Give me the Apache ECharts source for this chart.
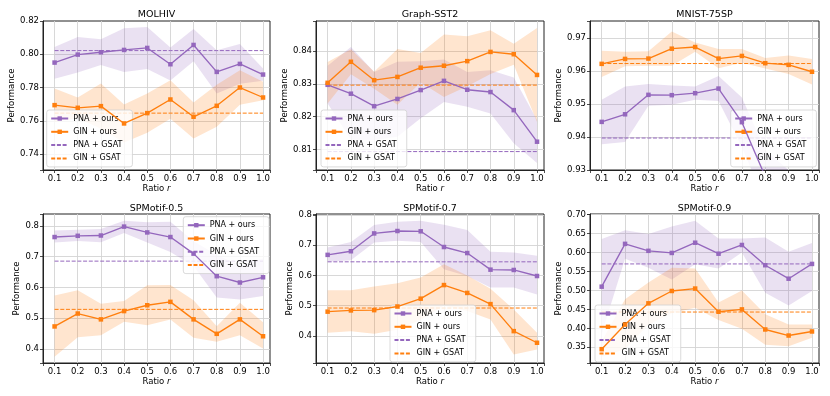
<!DOCTYPE html>
<html>
<head>
<meta charset="utf-8">
<script src="https://cdn.jsdelivr.net/npm/echarts@6/dist/echarts.min.js"></script>
<style>
html, body { margin: 0; padding: 0; background: #fff; }
#main { width: 830px; height: 396px; }
</style>
</head>
<body>
<div id="main"></div>
<script>
var ratios = [0.1, 0.2, 0.3, 0.4, 0.5, 0.6, 0.7, 0.8, 0.9, 1.0];
var seriesNames = ['PNA + ours', 'GIN + ours', 'PNA + GSAT', 'GIN + GSAT'];

// MOLHIV
var molhivPna   = [0.795, 0.7998, 0.8012, 0.8026, 0.8038, 0.794, 0.8056, 0.7894, 0.7942, 0.7878];
var molhivPnaLo = [0.7852, 0.789, 0.7936, 0.7894, 0.7912, 0.7842, 0.7958, 0.7764, 0.7823, 0.7840];
var molhivPnaHi = [0.8044, 0.8104, 0.809, 0.8156, 0.8164, 0.804, 0.8152, 0.8024, 0.8062, 0.7914];
var molhivGin   = [0.7694, 0.7678, 0.7688, 0.7584, 0.7646, 0.7728, 0.7624, 0.769, 0.78, 0.774];
var molhivGinLo = [0.7594, 0.7616, 0.7552, 0.747, 0.7528, 0.7612, 0.7494, 0.7564, 0.7696, 0.7724];
var molhivGinHi = [0.7794, 0.774, 0.7824, 0.7698, 0.7764, 0.7844, 0.771, 0.7816, 0.7904, 0.7834];
var molhivPnaGsat = 0.8022, molhivGinGsat = 0.7646;

// Graph-SST2
var sstPna   = [0.8297, 0.827, 0.8232, 0.8254, 0.8281, 0.8309, 0.8282, 0.8275, 0.822, 0.8124];
var sstPnaLo = [0.824, 0.813, 0.8129, 0.8139, 0.8195, 0.8245, 0.823, 0.821, 0.8119, 0.8059];
var sstPnaHi = [0.8355, 0.8412, 0.8336, 0.8367, 0.8369, 0.8374, 0.8336, 0.8341, 0.8319, 0.819];
var sstGin   = [0.8303, 0.8367, 0.8311, 0.8321, 0.8349, 0.8355, 0.8369, 0.8397, 0.839, 0.8327];
var sstGinLo = [0.824, 0.8329, 0.8285, 0.8236, 0.8304, 0.826, 0.8293, 0.833, 0.8358, 0.8184];
var sstGinHi = [0.8366, 0.8405, 0.8337, 0.8406, 0.8394, 0.845, 0.8445, 0.8463, 0.8422, 0.847];
var sstPnaGsat = 0.8094, sstGinGsat = 0.8296;

// MNIST-75SP
var mnistPna   = [0.9446, 0.9469, 0.9528, 0.9527, 0.9533, 0.9547, 0.9445, 0.928, 0.922, 0.92];
var mnistPnaLo = [0.9378, 0.9385, 0.9495, 0.9498, 0.9513, 0.9509, 0.937, 0.92, 0.914, 0.912];
var mnistPnaHi = [0.9513, 0.9553, 0.9561, 0.9556, 0.9553, 0.9585, 0.952, 0.936, 0.93, 0.928];
var mnistGin   = [0.9622, 0.9637, 0.9638, 0.9668, 0.9673, 0.9638, 0.9646, 0.9624, 0.9619, 0.9598];
var mnistGinLo = [0.9582, 0.9615, 0.9616, 0.9616, 0.9659, 0.9609, 0.9625, 0.9608, 0.9591, 0.9559];
var mnistGinHi = [0.9662, 0.9659, 0.966, 0.972, 0.9687, 0.9667, 0.9667, 0.964, 0.9647, 0.9637];
var mnistPnaGsat = 0.9397, mnistGinGsat = 0.9623;

// SPMotif-0.5
var sp5Pna   = [0.764, 0.768, 0.769, 0.798, 0.779, 0.764, 0.71, 0.6365, 0.616, 0.633];
var sp5PnaLo = [0.746, 0.751, 0.747, 0.777, 0.746, 0.715, 0.67, 0.567, 0.561, 0.572];
var sp5PnaHi = [0.785, 0.788, 0.79, 0.817, 0.812, 0.814, 0.75, 0.706, 0.671, 0.694];
var sp5Gin   = [0.473, 0.515, 0.496, 0.523, 0.542, 0.553, 0.496, 0.449, 0.496, 0.441];
var sp5GinLo = [0.374, 0.438, 0.444, 0.488, 0.477, 0.496, 0.436, 0.423, 0.444, 0.401];
var sp5GinHi = [0.574, 0.591, 0.547, 0.556, 0.607, 0.608, 0.558, 0.474, 0.55, 0.487];
var sp5PnaGsat = 0.6856, sp5GinGsat = 0.5286;

// SPMotif-0.7
var sp7Pna   = [0.668, 0.68, 0.739, 0.747, 0.746, 0.694, 0.674, 0.619, 0.618, 0.598];
var sp7PnaLo = [0.645, 0.65, 0.709, 0.715, 0.711, 0.62, 0.598, 0.56, 0.56, 0.537];
var sp7PnaHi = [0.6925, 0.711, 0.767, 0.778, 0.781, 0.768, 0.75, 0.678, 0.676, 0.665];
var sp7Gin   = [0.48, 0.484, 0.485, 0.497, 0.523, 0.568, 0.542, 0.505, 0.4155, 0.377];
var sp7GinLo = [0.41, 0.4155, 0.4066, 0.42, 0.453, 0.5, 0.482, 0.454, 0.338, 0.3546];
var sp7GinHi = [0.551, 0.551, 0.563, 0.574, 0.593, 0.637, 0.6, 0.556, 0.4875, 0.41];
var sp7PnaGsat = 0.645, sp7GinGsat = 0.492;

// SPMotif-0.9
var sp9Pna   = [0.51, 0.623, 0.6046, 0.599, 0.626, 0.597, 0.62, 0.5666, 0.531, 0.57];
var sp9PnaLo = [0.385, 0.584, 0.56, 0.529, 0.569, 0.558, 0.6, 0.494, 0.4606, 0.4986];
var sp9PnaHi = [0.6355, 0.659, 0.649, 0.669, 0.684, 0.637, 0.637, 0.64, 0.602, 0.625];
var sp9Gin   = [0.345, 0.41, 0.466, 0.4986, 0.505, 0.4438, 0.45, 0.397, 0.381, 0.3917];
var sp9GinLo = [0.325, 0.345, 0.41, 0.44, 0.4545, 0.422, 0.399, 0.357, 0.353, 0.375];
var sp9GinHi = [0.365, 0.4765, 0.521, 0.56, 0.558, 0.468, 0.5, 0.437, 0.41, 0.41];
var sp9PnaGsat = 0.57, sp9GinGsat = 0.443;

var PURPLE = '#9467bd';
var ORANGE = '#ff7f0e';
var FONT = 'DejaVu Sans';

var panels = [
    { title: 'MOLHIV', pna: molhivPna, pnaLo: molhivPnaLo, pnaHi: molhivPnaHi, gin: molhivGin, ginLo: molhivGinLo, ginHi: molhivGinHi,
      pnaGsat: molhivPnaGsat, ginGsat: molhivGinGsat, ymin: 0.7304, ymax: 0.82, step: 0.02, dec: 2, split: 5,
      grid: [43, 21, 227, 149], legend: [46.7, 110], nameGap: 26, titleY: 15 },
    { title: 'Graph-SST2', pna: sstPna, pnaLo: sstPnaLo, pnaHi: sstPnaHi, gin: sstGin, ginLo: sstGinLo, ginHi: sstGinHi,
      pnaGsat: sstPnaGsat, ginGsat: sstGinGsat, ymin: 0.8038, ymax: 0.8491, step: 0.01, dec: 2, split: 5,
      grid: [316, 21, 228, 149], legend: [321, 110], nameGap: 25, titleY: 15 },
    { title: 'MNIST-75SP', pna: mnistPna, pnaLo: mnistPnaLo, pnaHi: mnistPnaHi, gin: mnistGin, ginLo: mnistGinLo, ginHi: mnistGinHi,
      pnaGsat: mnistPnaGsat, ginGsat: mnistGinGsat, ymin: 0.93, ymax: 0.9752, step: 0.01, dec: 2, split: 5,
      grid: [590, 21, 229, 149], legend: [730.7, 110], nameGap: 25.5, titleY: 15 },
    { title: 'SPMotif-0.5', pna: sp5Pna, pnaLo: sp5PnaLo, pnaHi: sp5PnaHi, gin: sp5Gin, ginLo: sp5GinLo, ginHi: sp5GinHi,
      pnaGsat: sp5PnaGsat, ginGsat: sp5GinGsat, ymin: 0.354, ymax: 0.839, step: 0.1, dec: 1, split: 5,
      grid: [43, 214, 227, 149], legend: [183.3, 216.7], nameGap: 20, titleY: 208.7 },
    { title: 'SPMotif-0.7', pna: sp7Pna, pnaLo: sp7PnaLo, pnaHi: sp7PnaHi, gin: sp7Gin, ginLo: sp7GinLo, ginHi: sp7GinHi,
      pnaGsat: sp7PnaGsat, ginGsat: sp7GinGsat, ymin: 0.31, ymax: 0.8033, step: 0.1, dec: 1, split: 5,
      grid: [316, 214, 228, 149], legend: [390, 305], nameGap: 19.5, titleY: 208.7 },
    { title: 'SPMotif-0.9', pna: sp9Pna, pnaLo: sp9PnaLo, pnaHi: sp9PnaHi, gin: sp9Gin, ginLo: sp9GinLo, ginHi: sp9GinHi,
      pnaGsat: sp9PnaGsat, ginGsat: sp9GinGsat, ymin: 0.3085, ymax: 0.7018, step: 0.05, dec: 2, split: 8,
      grid: [590, 214, 229, 149], legend: [595, 305], nameGap: 25, titleY: 208.7 }
];

function pts(vals) {
    return ratios.map(function (r, k) { return [r, vals[k]]; });
}
function flat(v) {
    return ratios.map(function (r) { return [r, v]; });
}
function tickFormatter(step, dec) {
    return function (v) {
        var k = v / step;
        return Math.abs(k - Math.round(k)) < 1e-6 ? v.toFixed(dec) : '';
    };
}

// shaded band between lo and hi, drawn as one polygon through the axis scales
function bandSeries(i, lo, hi, color) {
    return {
        name: 'band', type: 'custom', xAxisIndex: i, yAxisIndex: i, silent: true, clip: true, z: 1,
        data: ratios.map(function (r, k) { return [r, lo[k], hi[k]]; }),
        encode: { x: 0, y: [1, 2] },
        renderItem: function (params, api) {
            if (params.dataIndex !== 0) return null;
            var top = [], bottom = [];
            for (var k = 0; k < ratios.length; k++) {
                top.push(api.coord([ratios[k], hi[k]]));
                bottom.unshift(api.coord([ratios[k], lo[k]]));
            }
            return {
                type: 'polygon',
                shape: { points: top.concat(bottom) },
                style: { fill: color, stroke: null }
            };
        }
    };
}

var myChart = echarts.init(document.getElementById('main'));
var option = {
    animation: false,
    backgroundColor: '#fff',
    textStyle: { fontFamily: FONT },
    title: [], grid: [], xAxis: [], yAxis: [], legend: [], series: []
};

panels.forEach(function (p, i) {
    var g = p.grid;
    option.title.push({
        text: p.title, left: g[0] + g[2] / 2, top: p.titleY, textAlign: 'center', textVerticalAlign: 'middle', padding: 0,
        textStyle: { fontSize: 9.5, fontWeight: 'normal', color: '#000', fontFamily: FONT }
    });
    option.grid.push({
        left: g[0], top: g[1], width: g[2], height: g[3],
        show: true, borderColor: '#222', borderWidth: 1, backgroundColor: 'transparent'
    });
    option.xAxis.push({
        type: 'value', gridIndex: i, min: 0.05, max: 1.03, splitNumber: 10,
        name: 'Ratio {i|r}', nameLocation: 'middle', nameGap: 12.5,
        nameTextStyle: { fontSize: 8.5, color: '#000', fontFamily: FONT, rich: { i: { fontStyle: 'italic', fontSize: 8.5, fontFamily: FONT } } },
        axisLine: { show: true, lineStyle: { color: '#222', width: 1 } },
        axisTick: { show: true, length: 3, lineStyle: { color: '#222', width: 0.8 } },
        axisLabel: { fontSize: 8.5, color: '#000', margin: 4, formatter: tickFormatter(0.1, 1) },
        splitLine: { show: true, showMinLine: false, showMaxLine: false, lineStyle: { color: '#d4d4d4', width: 0.9 } }
    });
    option.yAxis.push({
        type: 'value', gridIndex: i, min: p.ymin, max: p.ymax, splitNumber: p.split,
        name: 'Performance', nameLocation: 'middle', nameGap: p.nameGap,
        nameTextStyle: { fontSize: 8.5, color: '#000', fontFamily: FONT },
        axisLine: { show: true, lineStyle: { color: '#222', width: 1 } },
        axisTick: { show: true, length: 3, lineStyle: { color: '#222', width: 0.8 } },
        axisLabel: { fontSize: 8.5, color: '#000', margin: 4, formatter: tickFormatter(p.step, p.dec) },
        splitLine: { show: true, showMinLine: false, showMaxLine: false, lineStyle: { color: '#d4d4d4', width: 0.9 } }
    });
    option.legend.push({
        orient: 'vertical', left: p.legend[0], top: p.legend[1], selectedMode: false,
        data: [
            { name: seriesNames[0] },
            { name: seriesNames[1] },
            { name: seriesNames[2], itemStyle: { opacity: 0 } },
            { name: seriesNames[3], itemStyle: { opacity: 0 } }
        ],
        itemWidth: 17, itemHeight: 5.5, itemGap: 4.3, padding: [4, 10, 4, 3.5],
        backgroundColor: 'rgba(255,255,255,0.8)', borderColor: '#d0d0d0', borderWidth: 0.8, borderRadius: 2.5,
        textStyle: { fontSize: 8, color: '#000', fontFamily: FONT, lineHeight: 9 }
    });

    option.series.push(bandSeries(i, p.pnaLo, p.pnaHi, 'rgba(148,103,189,0.2)'));
    option.series.push(bandSeries(i, p.ginLo, p.ginHi, 'rgba(255,127,14,0.2)'));

    option.series.push({
        name: seriesNames[2], type: 'line', xAxisIndex: i, yAxisIndex: i, data: flat(p.pnaGsat), symbol: 'none',
        lineStyle: { color: PURPLE, width: 1, type: [4, 1.7] }, itemStyle: { color: PURPLE }, z: 3
    });
    option.series.push({
        name: seriesNames[3], type: 'line', xAxisIndex: i, yAxisIndex: i, data: flat(p.ginGsat), symbol: 'none',
        lineStyle: { color: ORANGE, width: 1, type: [4, 1.7] }, itemStyle: { color: ORANGE }, z: 3
    });
    option.series.push({
        name: seriesNames[0], type: 'line', xAxisIndex: i, yAxisIndex: i, data: pts(p.pna),
        symbol: 'rect', symbolSize: 4.5, lineStyle: { color: PURPLE, width: 1.35 }, itemStyle: { color: PURPLE }, z: 4
    });
    option.series.push({
        name: seriesNames[1], type: 'line', xAxisIndex: i, yAxisIndex: i, data: pts(p.gin),
        symbol: 'rect', symbolSize: 4.5, lineStyle: { color: ORANGE, width: 1.35 }, itemStyle: { color: ORANGE }, z: 4
    });
});

myChart.setOption(option);
</script>
</body>
</html>
